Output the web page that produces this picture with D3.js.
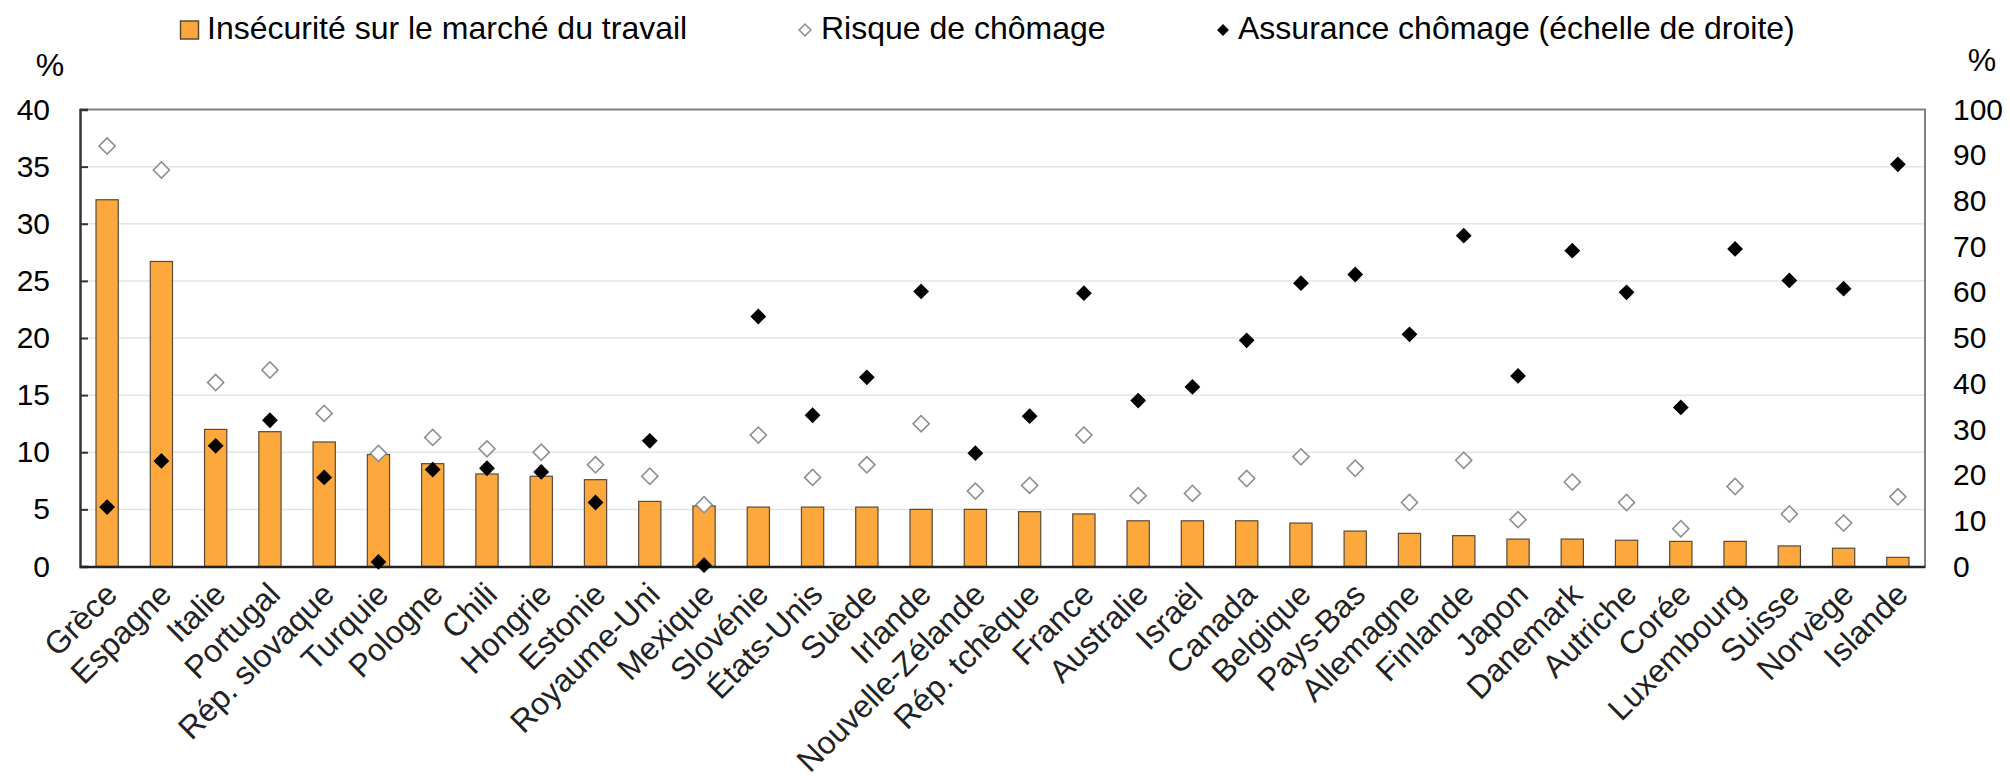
<!DOCTYPE html>
<html>
<head>
<meta charset="utf-8">
<script src="https://cdn.jsdelivr.net/npm/d3@7"></script>
<style>
  html, body { margin: 0; padding: 0; background: #fff; }
  svg { display: block; font-family: "Liberation Sans", Arial, Helvetica, sans-serif; }
</style>
</head>
<body>
<svg id="chart" width="2010" height="781"></svg>
<script>
const categories = ["Grèce","Espagne","Italie","Portugal","Rép. slovaque","Turquie","Pologne","Chili","Hongrie","Estonie","Royaume-Uni","Mexique","Slovénie","États-Unis","Suède","Irlande","Nouvelle-Zélande","Rép. tchèque","France","Australie","Israël","Canada","Belgique","Pays-Bas","Allemagne","Finlande","Japon","Danemark","Autriche","Corée","Luxembourg","Suisse","Norvège","Islande"];
const insecurite = [32.1,26.7,12.0,11.8,10.9,9.8,9.0,8.1,7.9,7.6,5.7,5.3,5.2,5.2,5.2,5.0,5.0,4.8,4.6,4.0,4.0,4.0,3.8,3.1,2.9,2.7,2.4,2.4,2.3,2.2,2.2,1.8,1.6,0.8];
const risque = [36.8,34.7,16.1,17.2,13.4,9.9,11.3,10.3,10.0,8.9,7.9,5.4,11.5,7.8,8.9,12.5,6.6,7.1,11.5,6.2,6.4,7.7,9.6,8.6,5.6,9.3,4.1,7.4,5.6,3.3,7.0,4.6,3.8,6.1];
const assurance = [13.0,23.1,26.4,32.0,19.5,1.0,21.2,21.5,20.7,14.0,27.5,0.3,54.7,33.1,41.4,60.2,24.8,32.9,59.8,36.3,39.3,49.5,62.0,63.9,50.8,72.4,41.7,69.1,60.0,34.8,69.5,62.6,60.8,88.0];
const leftTicks = [0,5,10,15,20,25,30,35,40];
const rightTicks = [0,10,20,30,40,50,60,70,80,90,100];
const legendLabels = ["Insécurité sur le marché du travail","Risque de chômage","Assurance chômage (échelle de droite)"];

const ORANGE = "#FCA83C";
const svg = d3.select("#chart");
const L = 80, R = 1925, T = 109.5, B = 566.5;

const x = d3.scaleBand().domain(categories).range([L, R]).paddingInner(0.59).paddingOuter(0.295);
const yL = d3.scaleLinear().domain([0, 40]).range([B, T]);
const yR = d3.scaleLinear().domain([0, 100]).range([B, T]);

// gridlines
svg.append("g").selectAll("line").data(leftTicks.filter(d => d > 0 && d < 40)).join("line")
  .attr("x1", L).attr("x2", R).attr("y1", d => yL(d)).attr("y2", d => yL(d))
  .attr("stroke", "#e2e6e6").attr("stroke-width", 1.5);

// frame top & right
svg.append("path").attr("d", `M${L},${T}H${R}V${B}`).attr("fill", "none")
  .attr("stroke", "#808080").attr("stroke-width", 2);

// bars
const data = categories.map((c, i) => ({c, ins: insecurite[i], ris: risque[i], ass: assurance[i]}));
svg.append("g").selectAll("rect").data(data).join("rect")
  .attr("x", d => x(d.c)).attr("width", x.bandwidth())
  .attr("y", d => yL(d.ins)).attr("height", d => yL(0) - yL(d.ins))
  .attr("fill", ORANGE).attr("stroke", "#5a4a3a").attr("stroke-width", 1.2);

// left axis
const gL = svg.append("g").attr("transform", `translate(${L},0)`)
  .call(d3.axisLeft(yL).tickValues(leftTicks).tickSize(-8).tickPadding(30));
gL.select(".domain").attr("stroke", "#333").attr("stroke-width", 2.5);
gL.selectAll(".tick line").attr("stroke", "#333").attr("stroke-width", 2);
gL.selectAll(".tick text").attr("font-size", 30).attr("fill", "#000").attr("font-family", "Liberation Sans, Arial, sans-serif");

// right axis labels
const gR = svg.append("g").attr("transform", `translate(${R},0)`)
  .call(d3.axisRight(yR).tickValues(rightTicks).tickSize(0).tickPadding(28));
gR.select(".domain").remove();
gR.selectAll(".tick text").attr("font-size", 30).attr("fill", "#000").attr("font-family", "Liberation Sans, Arial, sans-serif");

// bottom axis
const gB = svg.append("g").attr("transform", `translate(0,${B})`)
  .call(d3.axisBottom(x).tickSize(0).tickPadding(0));
gB.select(".domain").attr("stroke", "#222").attr("stroke-width", 2.5);
gB.selectAll(".tick text")
  .attr("font-size", 32).attr("fill", "#222").attr("font-family", "Liberation Sans, Arial, sans-serif")
  .attr("text-anchor", "end").attr("y", 0).attr("dy", 0)
  .attr("transform", "translate(12,30) rotate(-45)");

// markers
const diamond = d3.symbol().type(d3.symbolSquare);
svg.append("g").selectAll("path").data(data).join("path")
  .attr("d", diamond.size(130)())
  .attr("transform", d => `translate(${x(d.c) + x.bandwidth()/2},${yL(d.ris)}) rotate(45)`)
  .attr("fill", "#fff").attr("stroke", "#8f8f8f").attr("stroke-width", 1.6);
svg.append("g").selectAll("path").data(data).join("path")
  .attr("d", diamond.size(125)())
  .attr("transform", d => `translate(${x(d.c) + x.bandwidth()/2},${yR(d.ass)}) rotate(45)`)
  .attr("fill", "#000");

// unit labels
svg.append("text").attr("x", 50).attr("y", 76).attr("text-anchor", "middle").attr("font-size", 32).text("%");
svg.append("text").attr("x", 1982).attr("y", 71).attr("text-anchor", "middle").attr("font-size", 32).text("%");

// legend
const lg = svg.append("g").attr("font-size", 32).attr("fill", "#000");
lg.append("rect").attr("x", 180.5).attr("y", 21).attr("width", 18).attr("height", 18)
  .attr("fill", ORANGE).attr("stroke", "#5a4a3a").attr("stroke-width", 1.5);
lg.append("text").attr("x", 207).attr("y", 39).text(legendLabels[0]);
lg.append("path").attr("d", d3.symbol().type(d3.symbolSquare).size(70)())
  .attr("transform", "translate(805,30) rotate(45)").attr("fill", "#fff").attr("stroke", "#8f8f8f").attr("stroke-width", 1.5);
lg.append("text").attr("x", 821).attr("y", 39).text(legendLabels[1]);
lg.append("path").attr("d", d3.symbol().type(d3.symbolSquare).size(70)())
  .attr("transform", "translate(1223,30) rotate(45)").attr("fill", "#000");
lg.append("text").attr("x", 1238).attr("y", 39).text(legendLabels[2]);
</script>
</body>
</html>
